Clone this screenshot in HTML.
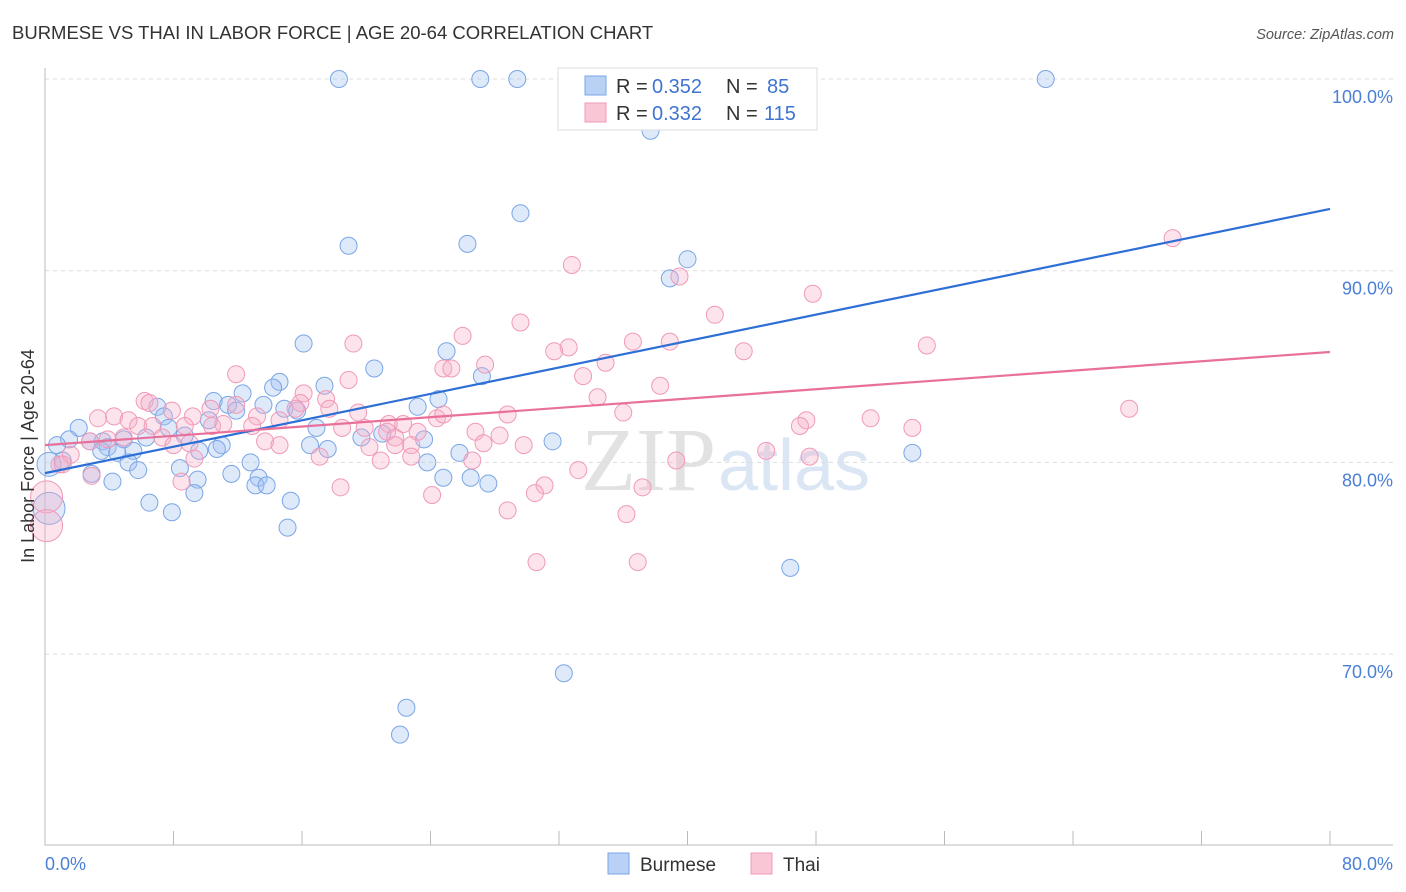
<!DOCTYPE html>
<html><head><meta charset="utf-8"><style>
body{margin:0;background:#fff;font-family:"Liberation Sans",sans-serif;}
svg{display:block}
</style></head><body>
<svg id="chart" width="1406" height="892">
<text x="12" y="39" font-size="18.5" fill="#333">BURMESE VS THAI IN LABOR FORCE | AGE 20-64 CORRELATION CHART</text>
<text x="1394" y="39" font-size="14.5" fill="#555" font-style="italic" text-anchor="end">Source: ZipAtlas.com</text>
<text x="716" y="490" font-size="90" fill="#e2e2e2" text-anchor="end" font-family="Liberation Serif,serif">ZIP</text>
<text x="718" y="490" font-size="72" fill="#dbe6f5">atlas</text>
<g id="grid"></g><g id="axes"></g><g id="pts"></g><g id="lines"></g>
<text x="34" y="456" font-size="18" fill="#333" text-anchor="middle" transform="rotate(-90 34 456)">In Labor Force | Age 20-64</text>
<text x="45" y="870" font-size="18" fill="#4a7fd6">0.0%</text>
<text x="1393" y="870" font-size="18" fill="#4a7fd6" text-anchor="end">80.0%</text>
<g>
<rect x="558" y="68" width="259" height="62" fill="#fff" stroke="#ddd"/>
<rect x="585" y="76" width="21" height="19" fill="#b9d1f5" stroke="#7aa6e6"/>
<rect x="585" y="103" width="21" height="19" fill="#f9c6d6" stroke="#f09ab8"/>
<text x="616" y="93" font-size="20" fill="#333">R =</text>
<text x="652" y="93" font-size="20" fill="#3f74d0">0.352</text>
<text x="726" y="93" font-size="20" fill="#333">N =</text>
<text x="767" y="93" font-size="20" fill="#3f74d0">85</text>
<text x="616" y="120" font-size="20" fill="#333">R =</text>
<text x="652" y="120" font-size="20" fill="#3f74d0">0.332</text>
<text x="726" y="120" font-size="20" fill="#333">N =</text>
<text x="764" y="120" font-size="20" fill="#3f74d0">115</text>
</g>
<g>
<rect x="608" y="853" width="21" height="21" fill="#b9d1f5" stroke="#7aa6e6"/>
<text x="640" y="871" font-size="19" fill="#333">Burmese</text>
<rect x="751" y="853" width="21" height="21" fill="#f9c6d6" stroke="#f09ab8"/>
<text x="783" y="871" font-size="19" fill="#333">Thai</text>
</g>
</svg>
<script>
const yTicks=[100,90,80,70];
const blueX=[18.3,27.1,29.4,62.3,37.7,29.6,18.9,26.3,40.0,38.9,16.1,25.0,20.5,27.2,14.6,14.2,17.4,12.3,10.5,11.4,7.0,23.2,24.5,13.6,14.9,15.7,11.9,7.4,10.2,2.1,7.7,16.9,8.7,19.7,6.3,1.5,2.8,3.6,4.9,21.0,23.6,31.6,0.75,16.5,17.6,11.0,10.7,9.6,3.9,3.5,5.5,4.5,25.8,54.0,1.1,5.2,0.25,23.8,12.8,5.8,8.4,2.9,11.6,13.3,24.8,26.5,4.2,9.5,13.1,13.8,27.6,9.3,15.3,6.5,7.9,0.25,15.1,46.4,32.3,22.5,22.1];
const blueY=[100,100,100,100,97.3,93.0,91.3,91.4,90.6,89.6,86.2,85.8,84.9,84.5,84.2,83.9,84.0,83.6,83.2,83.0,82.9,82.9,83.3,83.0,82.8,82.7,82.7,82.4,82.2,81.8,81.8,81.8,81.4,81.3,81.3,81.2,81.1,81.1,81.2,81.5,81.2,81.1,80.9,80.9,80.7,80.9,80.7,80.6,80.8,80.6,80.6,80.5,80.5,80.5,80.1,80.0,79.9,80.0,80.0,79.6,79.7,79.4,79.4,79.2,79.2,79.2,79.0,79.1,78.8,78.8,78.9,78.4,78.0,77.9,77.4,77.6,76.6,74.5,69.0,67.2,65.8];
const pinkX=[70.2,32.8,39.5,47.8,41.7,29.6,26.0,36.6,54.9,19.2,32.6,38.9,31.7,43.5,34.9,27.4,24.8,25.3,11.9,33.5,18.9,38.3,16.1,34.4,6.2,6.5,7.9,10.3,11.9,15.9,17.5,15.6,17.7,67.5,19.5,36.0,51.4,28.8,9.2,4.3,3.3,5.2,13.2,14.6,24.4,24.8,47.4,47.0,54.0,5.8,6.7,8.7,10.4,11.1,12.9,18.5,19.9,21.4,22.3,26.8,28.3,21.3,21.8,23.2,7.3,4.9,3.9,2.8,13.7,14.6,21.8,22.8,27.3,29.8,9.0,8.0,20.2,44.9,47.6,1.6,9.3,17.1,20.9,22.8,26.6,39.3,0.9,1.1,2.9,33.2,8.5,18.4,31.1,37.2,24.1,30.5,0.1,28.8,36.2,0.1,30.6,36.9];
const pinkY=[91.7,90.3,89.7,88.8,87.7,87.3,86.6,86.3,86.1,86.2,86.0,86.3,85.8,85.8,85.2,85.1,84.9,84.9,84.6,84.5,84.3,84.0,83.6,83.4,83.2,83.1,82.7,82.8,83.0,83.1,83.3,82.8,82.8,82.8,82.6,82.6,82.3,82.5,82.4,82.4,82.3,82.2,82.4,82.2,82.3,82.5,82.2,81.9,81.8,81.9,81.9,81.9,81.9,82.0,81.9,81.8,81.8,82.0,82.0,81.6,81.4,81.6,81.3,81.6,81.3,81.3,81.2,81.1,81.1,80.9,80.9,80.9,81.0,80.9,81.0,80.9,80.8,80.6,80.3,80.4,80.2,80.3,80.1,80.3,80.1,80.1,79.9,79.9,79.3,79.6,79.0,78.7,78.8,78.7,78.3,78.4,78.2,77.5,77.3,76.7,74.8,74.8];
const blueTrend=[79.44,93.22];
const pinkTrend=[80.9,85.76];
const NS='http://www.w3.org/2000/svg';
const sx=v=>45+v/80*1285;
const sy=v=>79+(100-v)*19.17;
function mk(tag,attrs,parent){const e=document.createElementNS(NS,tag);for(const k in attrs)e.setAttribute(k,attrs[k]);parent.appendChild(e);return e;}
const grid=document.getElementById('grid'),axes=document.getElementById('axes'),pts=document.getElementById('pts'),lines=document.getElementById('lines');
yTicks.forEach(t=>{
 const l=mk('line',{x1:45,x2:1393,y1:sy(t),y2:sy(t),stroke:'#ddd','stroke-dasharray':'4 4'},grid);
 
 
 const tx=mk('text',{x:1393,y:sy(t)+24,'font-size':18,fill:'#4a7fd6','text-anchor':'end'},grid);
 tx.textContent=t.toFixed(1)+'%';
 
 
});
const ax=mk('path',{d:'M45 68V845H1393',fill:'none',stroke:'#bbb'},axes);


for(let i=0;i<=10;i++){
 const t=mk('line',{x1:sx(i*8),x2:sx(i*8),y1:831,y2:845,stroke:'#bbb'},axes);
 
 
}
function dots(X,Y,fill,stroke,name){
 X.forEach((x,i)=>{
  const r=(x<0.5)?(Y[i]<78.5&&Y[i]>76?16:12):8.5;
  const c=mk('circle',{cx:sx(x),cy:sy(Y[i]),r:r,fill:fill,stroke:stroke,'stroke-width':1},pts);
  
  
 });
}
dots(blueX,blueY,'rgba(160,192,240,0.35)','#7aa6e6','burmese-point');
dots(pinkX,pinkY,'rgba(246,176,200,0.35)','#f09ab8','thai-point');
const bl=mk('line',{x1:sx(0),x2:sx(80),y1:sy(blueTrend[0]),y2:sy(blueTrend[1]),stroke:'#2e6fd6','stroke-width':2.2},lines);


const pl=mk('line',{x1:sx(0),x2:sx(80),y1:sy(pinkTrend[0]),y2:sy(pinkTrend[1]),stroke:'#e8709a','stroke-width':2.2},lines);


</script>
</body></html>
